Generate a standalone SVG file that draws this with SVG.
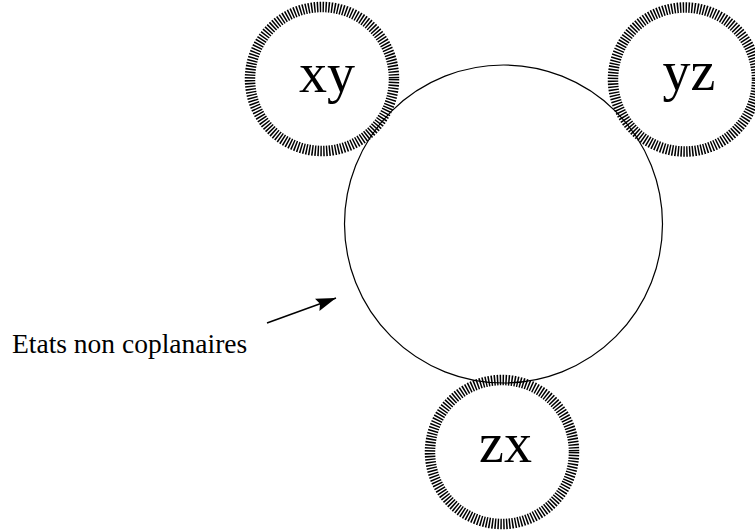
<svg xmlns="http://www.w3.org/2000/svg" width="755" height="531" viewBox="0 0 755 531">
<style>
.ring{fill:none;stroke:#000;stroke-width:10.5;stroke-dasharray:1.5 1.4}
.main{fill:none;stroke:#000;stroke-width:1.2}
.lbl{font-family:"Liberation Serif","Times New Roman",serif;font-size:56px;fill:#000}
.txt{font-family:"Liberation Serif","Times New Roman",serif;font-size:27.5px;fill:#000}
.conn{stroke:#000;stroke-width:1.5;fill:none}
</style>
<defs>
<marker id="ah" markerUnits="userSpaceOnUse" markerWidth="22" markerHeight="14" refX="20" refY="6.5" orient="auto" viewBox="0 0 22 14">
<path d="M0,0 L20,6.5 L0,13 L3,6.5 z" fill="#000"/>
</marker>
</defs>
<g id="main">
<circle class="main" cx="503.5" cy="224" r="159"/>
</g>
<g id="xy">
<circle class="ring" cx="322" cy="79" r="72"/>
<text class="lbl" x="327" y="92" text-anchor="middle">xy</text>
</g>
<g id="yz">
<circle class="ring" cx="685" cy="79.5" r="72"/>
<text class="lbl" x="689" y="90" text-anchor="middle">yz</text>
</g>
<g id="zx">
<circle class="ring" cx="502" cy="452" r="72"/>
<text class="lbl" x="505.5" y="462" text-anchor="middle">zx</text>
</g>
<g id="label">
<text class="txt" x="12" y="353">Etats non coplanaires</text>
</g>
<g id="connectors">
<line class="conn" x1="267" y1="323" x2="336" y2="298" marker-end="url(#ah)"/>
</g>
</svg>
